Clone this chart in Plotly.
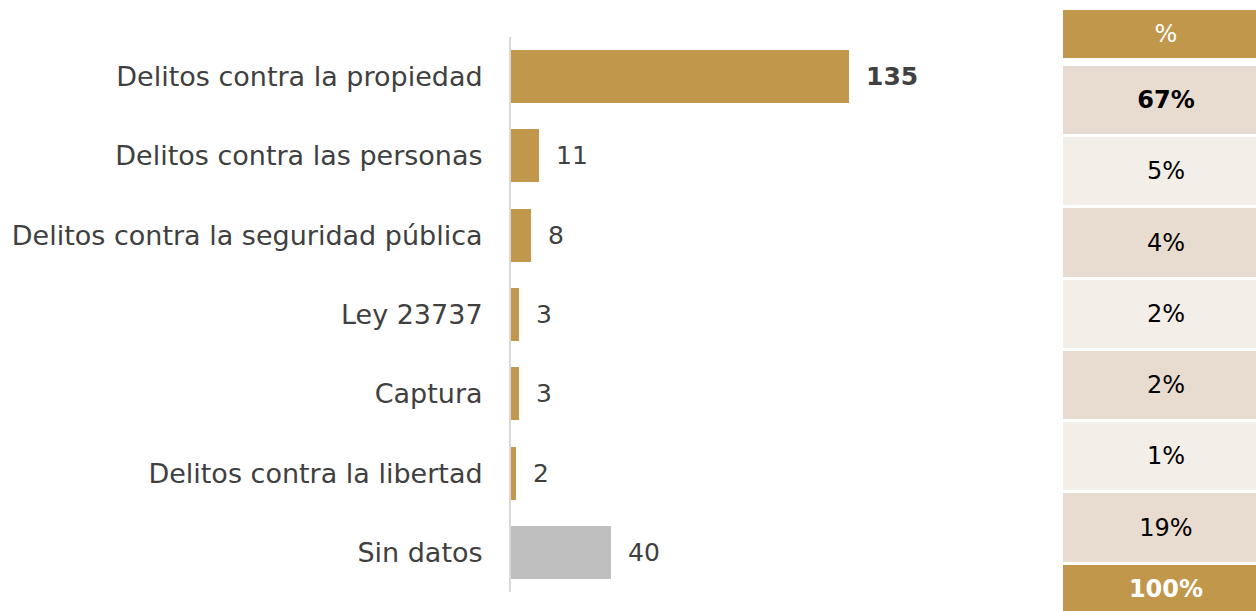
import plotly.graph_objects as go

# ---- data ----
categories = [
    "Delitos contra la propiedad",
    "Delitos contra las personas",
    "Delitos contra la seguridad pública",
    "Ley 23737",
    "Captura",
    "Delitos contra la libertad",
    "Sin datos",
]
values = [135, 11, 8, 3, 3, 2, 40]
pct_labels = ["67%", "5%", "4%", "2%", "2%", "1%", "19%"]
pct_header = "%"
pct_total = "100%"

# ---- styles ----
FONT = "DejaVu Sans"
GOLD = "#C0974B"
GRAY = "#BFBFBF"
TXT = "#404040"
ROW_DARK = "#E8DCD0"
ROW_LIGHT = "#F3EEE8"
W, H = 1256, 611

bar_colors = [GRAY if c == "Sin datos" else GOLD for c in categories]
max_idx = values.index(max(values))

fig = go.Figure()

fig.add_trace(go.Bar(
    x=values, y=categories, orientation="h",
    marker=dict(color=bar_colors, line=dict(width=0)),
    width=0.668, hoverinfo="skip", xaxis="x", yaxis="y",
))

for i, (c, v) in enumerate(zip(categories, values)):
    txt = f"<b>{v}</b>" if i == max_idx else str(v)
    fig.add_annotation(
        x=v, y=c, xref="x", yref="y", text=txt, showarrow=False,
        xanchor="left", yanchor="middle", xshift=15,
        font=dict(family=FONT, size=25, color=TXT),
    )

# ---- table as bars on second subplot ----
rows = [pct_header] + pct_labels + [pct_total]
n = len(rows)
fills, tcolors, texts, widths, offsets = [], [], [], [], []
for i, r in enumerate(rows):
    if i == 0 or i == n - 1:
        fills.append(GOLD)
        tcolors.append("white")
        w = 0.674
        center = 0.0737 if i == 0 else n - 1 - 0.137
        widths.append(w)
        offsets.append(center - i - w / 2)
        texts.append(f"<b>{r}</b>" if i == n - 1 else r)
    else:
        fills.append(ROW_DARK if i % 2 == 1 else ROW_LIGHT)
        tcolors.append("black")
        w = 0.958
        widths.append(w)
        offsets.append(-w / 2)
        texts.append(f"<b>{r}</b>" if i == 1 else r)

fig.add_trace(go.Bar(
    x=[1] * n, y=list(range(n)), orientation="h",
    marker=dict(color=fills, line=dict(width=0)),
    width=widths, offset=offsets,
    text=texts, textposition="inside", insidetextanchor="middle",
    textangle=0, constraintext="none",
    textfont=dict(family=FONT, size=24, color=tcolors),
    hoverinfo="skip", xaxis="x2", yaxis="y2",
))

pitch = 71.25
row1_y = 100
top_idx = 1 - row1_y / pitch
bot_idx = 1 + (H - row1_y) / pitch

tbl_left = 1063
tbl_center = 1166
xr2 = 0.5 * (W - tbl_left) / (tbl_center - tbl_left)

fig.update_layout(
    width=W, height=H,
    margin=dict(l=0, r=0, t=0, b=0),
    paper_bgcolor="white", plot_bgcolor="white",
    showlegend=False,
    bargap=0,
    xaxis=dict(domain=[511 / W, 911 / W], range=[0, 160],
               visible=False, fixedrange=True),
    yaxis=dict(domain=[1 - 592 / H, 1 - 37 / H],
               autorange="reversed",
               showline=True, linecolor="#D9D9D9", linewidth=2,
               showgrid=False, zeroline=False, ticks="",
               ticklabelstandoff=21, automargin=False,
               tickfont=dict(family=FONT, size=27, color=TXT)),
    xaxis2=dict(domain=[tbl_left / W, 1], range=[0, xr2], visible=False,
                anchor="y2", fixedrange=True),
    yaxis2=dict(domain=[0, 1], range=[bot_idx, top_idx], visible=False,
                anchor="x2"),
)

fig.write_html(
    "out.html",
    config={"displayModeBar": False},
    post_script="document.body.style.margin='0';"
                "document.body.style.overflow='hidden';",
)
